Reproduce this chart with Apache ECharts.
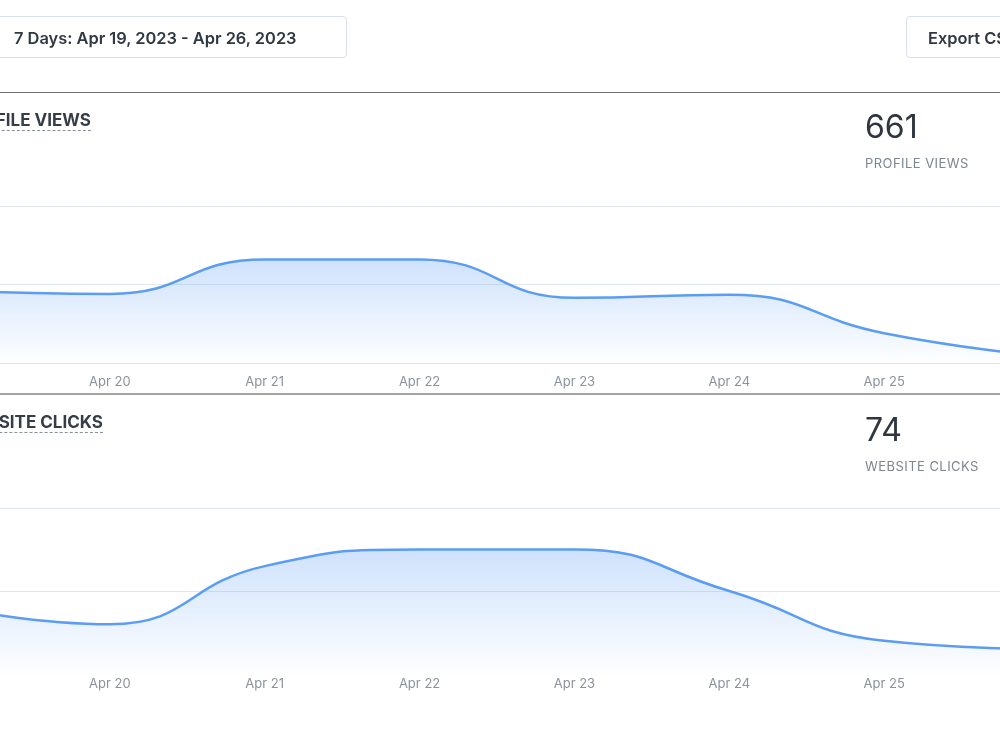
<!DOCTYPE html>
<html>
<head>
<meta charset="utf-8">
<script src="https://cdn.jsdelivr.net/npm/echarts@6/dist/echarts.min.js"></script>
<style>
    html, body {
        margin: 0;
        padding: 0;
        width: 1000px;
        height: 750px;
        overflow: hidden;
        background: #fff;
        font-family: Inter, "Noto Sans", sans-serif;
    }
    #page {
        position: relative;
        width: 1000px;
        height: 750px;
        overflow: hidden;
    }
    #chart-container {
        position: absolute;
        left: -100px;
        top: 0;
        width: 1200px;
        height: 750px;
    }
    .btn {
        position: absolute;
        top: 16px;
        height: 40px;
        border: 1px solid #d8e0eb;
        border-radius: 4px;
        font-size: 16.4px;
        font-weight: 600;
        color: #313842;
        line-height: 42px;
        box-sizing: content-box;
        white-space: nowrap;
        z-index: 2;
    }
    .rule {
        position: absolute;
        left: 0;
        width: 1000px;
        z-index: 2;
    }
    .heading {
        position: absolute;
        font-size: 17px;
        font-weight: 650;
        color: #363d47;
        border-bottom: 1px dashed #8a9099;
        line-height: 20px;
        white-space: nowrap;
        z-index: 2;
    }
    .total {
        position: absolute;
        left: 865px;
        font-size: 32px;
        font-weight: 400;
        color: #2f3640;
        line-height: 36px;
        z-index: 2;
    }
    .total-label {
        position: absolute;
        left: 865px;
        font-size: 13px;
        letter-spacing: 0.45px;
        color: #7d8691;
        line-height: 16px;
        white-space: nowrap;
        z-index: 2;
    }
</style>
</head>
<body>
<div id="page">
    <div id="chart-container"></div>

    <div class="btn" style="left:-40px; width:385px;"><span style="padding-left:53px;">7 Days: Apr 19, 2023 - Apr 26, 2023</span></div>
    <div class="btn" style="left:906px; width:160px;"><span style="padding-left:21px;">Export CSV</span></div>

    <div class="rule" style="top:92px; border-top:1px solid #707070;"></div>
    <div class="heading" style="right:909px; top:110px;">PROFILE VIEWS</div>
    <div class="total" style="top:109px;">661</div>
    <div class="total-label" style="top:155px;">PROFILE VIEWS</div>

    <div class="rule" style="top:393px; border-top:2px solid #a3a3a3;"></div>
    <div class="heading" style="right:897px; top:412px;">WEBSITE CLICKS</div>
    <div class="total" style="top:412px;">74</div>
    <div class="total-label" style="top:458px;">WEBSITE CLICKS</div>
</div>

<script>
    // dates on the x axis
    const days = ['Apr 19', 'Apr 20', 'Apr 21', 'Apr 22', 'Apr 23', 'Apr 24', 'Apr 25', 'Apr 26'];
    // daily values
    const profileViews = [92, 88, 132, 132, 83, 87, 38, 9];
    const websiteClicks = [8, 6, 13, 15, 15, 10, 4, 3];

    var dom = document.getElementById('chart-container');
    var myChart = echarts.init(dom, null, {
        renderer: 'canvas',
        useDirtyRect: false
    });

    const lineColor = '#5b9cf5';
    const gridColor = '#e2e7ee';

    function areaFill() {
        return new echarts.graphic.LinearGradient(0, 0, 0, 1, [
            { offset: 0, color: 'rgba(91, 156, 245, 0.42)' },
            { offset: 1, color: 'rgba(91, 156, 245, 0.01)' }
        ]);
    }

    function xAxis(gridIndex, showLine, margin) {
        return {
            type: 'category',
            gridIndex: gridIndex,
            data: days,
            boundaryGap: false,
            axisLine: { show: showLine, lineStyle: { color: '#dfe4ea', width: 1 } },
            axisTick: { show: false },
            axisLabel: {
                interval: 0,
                margin: margin,
                color: '#8a929c',
                fontSize: 13,
                fontFamily: 'Inter'
            },
            splitLine: { show: false }
        };
    }

    function yAxis(gridIndex, max, interval, lineColors) {
        return {
            type: 'value',
            gridIndex: gridIndex,
            min: 0,
            max: max,
            interval: interval,
            axisLabel: { show: false },
            axisLine: { show: false },
            axisTick: { show: false },
            splitLine: { lineStyle: { color: lineColors, width: 1 } }
        };
    }

    function lineSeries(index, values) {
        return {
            type: 'line',
            xAxisIndex: index,
            yAxisIndex: index,
            data: values,
            smooth: 0.5,
            showSymbol: false,
            lineStyle: { color: lineColor, width: 2.5 },
            itemStyle: { color: lineColor },
            areaStyle: { color: areaFill() }
        };
    }

    var option;

    option = {
        animation: false,
        grid: [
            { left: 55, right: 61, top: 206, height: 157 },
            { left: 55, right: 61, top: 508, height: 166 }
        ],
        xAxis: [xAxis(0, true, 13), xAxis(1, false, 4)],
        yAxis: [
            yAxis(0, 200, 100, [gridColor]),
            yAxis(1, 20, 10, ['rgba(0,0,0,0)', gridColor, gridColor])
        ],
        series: [lineSeries(0, profileViews), lineSeries(1, websiteClicks)]
    };

    if (option && typeof option === 'object') {
        myChart.setOption(option);
    }

    window.addEventListener('resize', myChart.resize);
</script>
</body>
</html>
